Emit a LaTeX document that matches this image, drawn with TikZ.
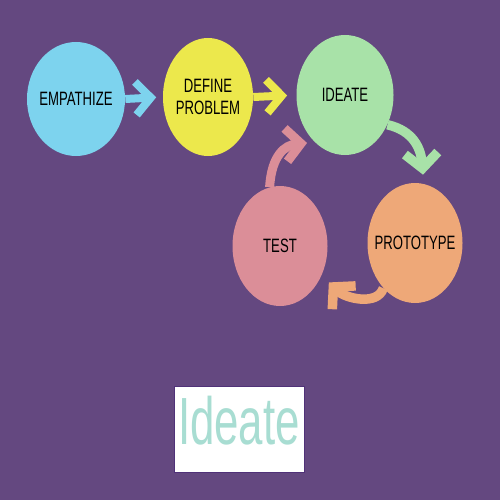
\documentclass[tikz,border=0pt]{standalone}
\usepackage{fontspec}
\setmainfont{Liberation Sans}
\usepackage{graphicx}
\usepackage{tikz}
\usetikzlibrary{shapes.geometric,arrows.meta}
\definecolor{bgpurple}{RGB}{100,72,128}
\definecolor{empblue}{RGB}{125,211,238}
\definecolor{defyellow}{RGB}{236,232,76}
\definecolor{idegreen}{RGB}{168,226,168}
\definecolor{testpink}{RGB}{219,142,152}
\definecolor{protoorange}{RGB}{238,168,120}
\definecolor{logoteal}{RGB}{168,221,210}
\definecolor{logoedge}{RGB}{80,50,120}
\newcommand{\squeeze}[1]{\makebox[0pt]{\scalebox{0.68}[1]{#1}}}

\begin{document}
\begin{tikzpicture}[x=0.2mm,y=-0.2mm,>={Straight Barb[length=3mm,width=6.6mm]},
    stage/.style={ellipse,inner sep=0pt,minimum width=19mm,minimum height=24mm,
        font=\fontsize{11}{13}\selectfont,align=center,text=black},
    flow/.style={->,line width=1.6mm}]
    % Background
    \fill[bgpurple] (0,0) rectangle (500,500);

    % Stages
    \node[stage,fill=empblue,minimum width=19.6mm,minimum height=22.8mm] (emp) at (76,99) {\squeeze{EMPATHIZE}};
    \node[stage,fill=defyellow,minimum width=18mm,minimum height=23.6mm] (def) at (208,97) {\squeeze{DEFINE}\\\squeeze{PROBLEM}};
    \node[stage,fill=idegreen,minimum width=19.4mm] (ide) at (345,95) {\squeeze{IDEATE}};
    \node[stage,fill=testpink] (test) at (280,246) {\squeeze{TEST}};
    \node[stage,fill=protoorange] (pro) at (415,243) {\squeeze{PROTOTYPE}};

    % Straight arrows
    \draw[flow,empblue,shorten >=1.3mm] (emp.east) -- (def.west);
    \draw[flow,defyellow,shorten >=1.8mm] (def.east) -- (ide.west);

    % Loop arrows
    \draw[flow,idegreen,line width=1.9mm] (ide.-35) .. controls +(26,6) and +(-2,-26) .. ([shift={(8,-8)}]pro.north);
    \draw[flow,protoorange,line width=1.9mm] (pro.-125) .. controls +(-6,18) and +(16,16) .. ([shift={(9,3)}]test.-40);
    \draw[flow,testpink,line width=1.8mm] (test.100) .. controls +(2,-32) and +(-22,2) .. ([shift={(0,10)}]ide.-135);

    % Title box
    \node[draw=logoedge,fill=white,minimum width=26mm,minimum height=17.2mm,inner sep=0pt] (logo) at (239,429) {};
    \node[text=logoteal,font=\fontsize{38}{38}\selectfont,inner sep=0pt] (logotext) at (239,421) {\scalebox{0.656}[1]{Ideate}};
\end{tikzpicture}
\end{document}
